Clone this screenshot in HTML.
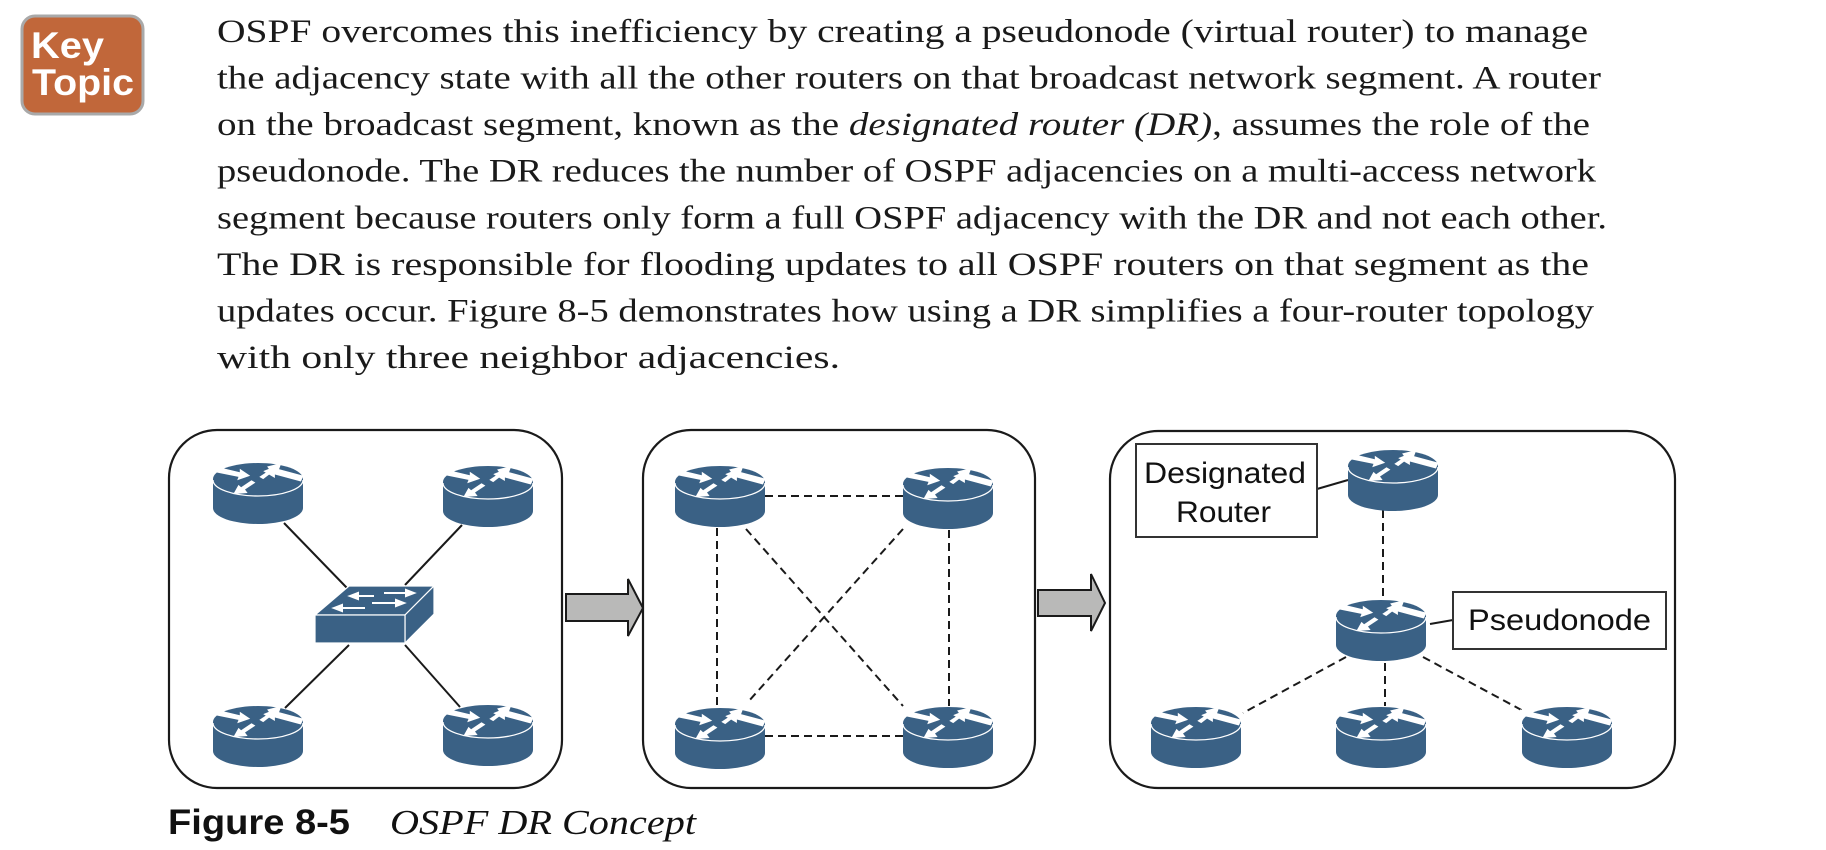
<!DOCTYPE html>
<html><head><meta charset="utf-8"><style>
html,body{margin:0;padding:0;background:#fff;}
svg{display:block;}
</style></head><body>
<svg width="1826" height="850" viewBox="0 0 1826 850" xmlns="http://www.w3.org/2000/svg">
<defs>
  <g id="rt">
    <path d="M-45,16 L-45,45 A45,16 0 0 0 45,45 L45,16 Z" fill="#3a6185"/>
    <ellipse cx="0" cy="16" rx="45" ry="16" fill="#3a6185"/>
    <path d="M-45,17 A45,16 0 0 0 45,17" fill="none" stroke="#fff" stroke-width="1.3"/>
    <g fill="#fff" transform="translate(0,15) scale(1.3,1.15) translate(0,-15)">
      <polygon points="-36,4 -14,10 -14,7 -6,13 -16,17 -15,14 -37,9"/>
      <polygon points="1,14 9,8 7,5 18,2 15,11 12,9 4,16"/>
      <polygon points="33,18 13,12 13,15 4,9 15,4 15,7 35,13"/>
      <polygon points="-2,19 -10,25 -8,28 -19,29 -15,21 -13,23 -5,17"/>
    </g>
  </g>
</defs>

<rect x="22" y="16" width="121" height="98" rx="13" fill="#c1673a" stroke="#a9a9a9" stroke-width="3"/>
<text x="31" y="58" font-family="Liberation Sans, sans-serif" font-weight="bold" font-size="37" fill="#fff" textLength="73" lengthAdjust="spacingAndGlyphs">Key</text>
<text x="32" y="95" font-family="Liberation Sans, sans-serif" font-weight="bold" font-size="37" fill="#fff" textLength="102" lengthAdjust="spacingAndGlyphs">Topic</text>

<g font-family="Liberation Serif, serif" font-size="33" fill="#1a1a1a">
<text x="217" y="42" textLength="1371" lengthAdjust="spacingAndGlyphs">OSPF overcomes this inefficiency by creating a pseudonode (virtual router) to manage</text>
<text x="217" y="88.6" textLength="1384" lengthAdjust="spacingAndGlyphs">the adjacency state with all the other routers on that broadcast network segment. A router</text>
<text x="217" y="135.1" textLength="1373" lengthAdjust="spacingAndGlyphs">on the broadcast segment, known as the <tspan font-style="italic">designated router (DR)</tspan>, assumes the role of the</text>
<text x="217" y="181.7" textLength="1379" lengthAdjust="spacingAndGlyphs">pseudonode. The DR reduces the number of OSPF adjacencies on a multi-access network</text>
<text x="217" y="228.3" textLength="1390" lengthAdjust="spacingAndGlyphs">segment because routers only form a full OSPF adjacency with the DR and not each other.</text>
<text x="217" y="274.9" textLength="1372" lengthAdjust="spacingAndGlyphs">The DR is responsible for flooding updates to all OSPF routers on that segment as the</text>
<text x="217" y="321.4" textLength="1377" lengthAdjust="spacingAndGlyphs">updates occur. Figure 8-5 demonstrates how using a DR simplifies a four-router topology</text>
<text x="217" y="368" textLength="623" lengthAdjust="spacingAndGlyphs">with only three neighbor adjacencies.</text>
</g>

<g fill="#fff" stroke="#1a1a1a" stroke-width="2.2">
<rect x="169" y="430" width="393" height="358" rx="48"/>
<rect x="643" y="430" width="392" height="358" rx="48"/>
<rect x="1110" y="431" width="565" height="357" rx="48"/>
</g>

<g fill="#b9b9b8" stroke="#1a1a1a" stroke-width="2">
<polygon points="566,594 628,594 628,579 643,608 628,636 628,621 566,621"/>
<polygon points="1038,590 1091,590 1091,574 1105,603 1091,631 1091,616 1038,616"/>
</g>

<g stroke="#1a1a1a" stroke-width="2">
<line x1="284" y1="523" x2="347" y2="588"/>
<line x1="462" y1="525" x2="405" y2="585"/>
<line x1="349" y1="645" x2="285" y2="708"/>
<line x1="405" y1="645" x2="460" y2="707"/>
</g>
<use href="#rt" x="258" y="463"/>
<use href="#rt" x="488" y="466"/>
<use href="#rt" x="258" y="706"/>
<use href="#rt" x="488" y="705"/>
<g fill="#3a6185" stroke="#fff" stroke-width="1.2">
<polygon points="315,615 349,586 434,586 405,615"/>
<polygon points="405,615 434,586 434,614 405,643"/>
<rect x="315" y="615" width="90" height="28"/>
</g>
<g stroke="#fff" stroke-width="2" fill="#fff">
<line x1="356" y1="596" x2="374" y2="596"/><polygon points="350,596 358,593 358,599"/>
<line x1="384" y1="593" x2="408" y2="593"/><polygon points="414,593 406,590 406,596"/>
<line x1="372" y1="603" x2="398" y2="603"/><polygon points="404,603 396,600 396,606"/>
<line x1="340" y1="608" x2="365" y2="608"/><polygon points="334,608 342,605 342,611"/>
</g>

<g stroke="#1a1a1a" stroke-width="2" stroke-dasharray="8,5" fill="none">
<line x1="765" y1="496" x2="903" y2="496"/>
<line x1="765" y1="736" x2="903" y2="736"/>
<line x1="717" y1="528" x2="717" y2="707"/>
<line x1="949" y1="530" x2="949" y2="706"/>
<line x1="746" y1="529" x2="903" y2="706"/>
<line x1="903" y1="529" x2="748" y2="702"/>
</g>
<use href="#rt" x="720" y="466"/>
<use href="#rt" x="948" y="468"/>
<use href="#rt" x="720" y="708"/>
<use href="#rt" x="948" y="707"/>

<g stroke="#1a1a1a" stroke-width="2" stroke-dasharray="8,5" fill="none">
<line x1="1383" y1="510" x2="1383" y2="600"/>
<line x1="1346" y1="657" x2="1243" y2="713"/>
<line x1="1385" y1="663" x2="1385" y2="706"/>
<line x1="1423" y1="657" x2="1527" y2="713"/>
</g>
<g stroke="#1a1a1a" stroke-width="2">
<line x1="1317" y1="489" x2="1348" y2="480"/>
<line x1="1430" y1="624" x2="1453" y2="620"/>
</g>
<use href="#rt" x="1393" y="450"/>
<use href="#rt" x="1381" y="600"/>
<use href="#rt" x="1196" y="707"/>
<use href="#rt" x="1381" y="707"/>
<use href="#rt" x="1567" y="707"/>
<g fill="#fff" stroke="#333" stroke-width="2">
<rect x="1136" y="444" width="181" height="93"/>
<rect x="1453" y="592" width="213" height="57"/>
</g>
<g font-family="Liberation Sans, sans-serif" font-size="30" fill="#111">
<text x="1144" y="483" textLength="162" lengthAdjust="spacingAndGlyphs">Designated</text>
<text x="1176" y="522" textLength="95" lengthAdjust="spacingAndGlyphs">Router</text>
<text x="1468" y="630" textLength="183" lengthAdjust="spacingAndGlyphs">Pseudonode</text>
</g>

<text x="168" y="834" font-family="Liberation Sans, sans-serif" font-weight="bold" font-size="35" fill="#111" textLength="182" lengthAdjust="spacingAndGlyphs">Figure 8-5</text>
<text x="390" y="834" font-family="Liberation Serif, serif" font-style="italic" font-size="35" fill="#111" textLength="306" lengthAdjust="spacingAndGlyphs">OSPF DR Concept</text>
</svg>
</body></html>
